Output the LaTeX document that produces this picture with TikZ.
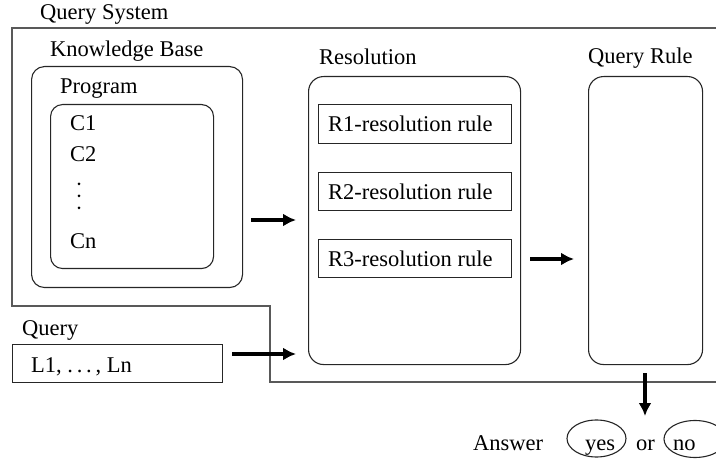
\documentclass[tikz,border=0pt]{standalone}
\usepackage{fontspec}
\setmainfont{Liberation Serif}
\usetikzlibrary{arrows.meta,shapes.geometric}
\begin{document}
\begin{tikzpicture}[x=1pt,y=-1pt,
  lbl/.style={anchor=base west,inner sep=0pt,font=\fontsize{22.5}{27}\selectfont},
  frameline/.style={draw=black!65,line width=1.4pt},
  rbox/.style={draw=black!85,line width=1.1pt,rounded corners=13pt,anchor=north west,inner sep=0pt},
  sbox/.style={draw=black!85,line width=1.1pt,anchor=north west,inner sep=0pt},
  oval/.style={ellipse,draw=black!85,line width=1.1pt,inner sep=0pt,
    minimum width=59pt,minimum height=37pt},
  flow/.style={line width=4pt,-{Latex[length=13pt,width=13pt]}}
]
\useasboundingbox (0,0) rectangle (716,468);

% outer query-system frame (open on the right)
\coordinate (f1) at (720,28);
\coordinate (f2) at (12,28);
\coordinate (f3) at (12,306);
\coordinate (f4) at (270,306);
\coordinate (f5) at (270,382);
\coordinate (f6) at (720,382);
\draw[frameline] (f1) -- (f2) -- (f3) -- (f4) -- (f5) -- (f6);
\node[lbl] (qs) at (40,20) {Query System};

% knowledge base with the program inside
\node[lbl] (kbl) at (50,57) {Knowledge Base};
\node[rbox,minimum width=211pt,minimum height=221pt] (kb) at (31,66) {};
\node[lbl] (pgl) at (60,94) {Program};
\node[rbox,minimum width=163pt,minimum height=164pt,rounded corners=12pt] (pg) at (50,104) {};
\node[lbl] (c1) at (70,131) {C1};
\node[lbl] (c2) at (70,162) {C2};
\fill (79,184) circle (1.5) (79,196) circle (1.5) (79,208) circle (1.5);
\node[lbl] (cn) at (70,249) {Cn};

% query
\node[lbl] (ql) at (22,335) {Query};
\node[sbox,minimum width=210pt,minimum height=38pt] (q) at (12,344) {};
\node[lbl] (qt) at (31,373) {L1, .\,.\,.\,, Ln};

% resolution
\node[lbl] (rl) at (319,65) {Resolution};
\node[rbox,minimum width=212pt,minimum height=288pt,rounded corners=15pt] (res) at (308,76) {};
\node[sbox,minimum width=193pt,minimum height=39pt] (r1) at (318,104) {};
\node[lbl] at (328,132) {R1-resolution rule};
\node[sbox,minimum width=193pt,minimum height=38pt] (r2) at (318,172) {};
\node[lbl] at (328,200) {R2-resolution rule};
\node[sbox,minimum width=193pt,minimum height=38pt] (r3) at (318,239) {};
\node[lbl] at (328,267) {R3-resolution rule};

% query rule
\node[lbl] (qrl) at (588,64) {Query Rule};
\node[rbox,minimum width=114pt,minimum height=288pt,rounded corners=15pt] (qr) at (588,76) {};

% arrows
\coordinate (a1s) at (251,220); \coordinate (a1e) at (296,220);
\coordinate (a2s) at (232,354); \coordinate (a2e) at (296,354);
\coordinate (a3s) at (530,259); \coordinate (a3e) at (574,259);
\coordinate (a4s) at (645,373); \coordinate (a4e) at (645,416);
\draw[flow] (a1s) -- (a1e);
\draw[flow] (a2s) -- (a2e);
\draw[flow] (a3s) -- (a3e);
\draw[flow] (a4s) -- (a4e);

% answer
\node[lbl] (ans) at (473,450) {Answer};
\node[oval] (yes) at (596.5,438.5) {};
\node[lbl] (yest) at (585,450) {yes};
\node[lbl] (or) at (636,450) {or};
\node[oval,minimum width=62pt] (no) at (695,439) {};
\node[lbl] (not) at (673,450) {no};
\end{tikzpicture}
\end{document}
